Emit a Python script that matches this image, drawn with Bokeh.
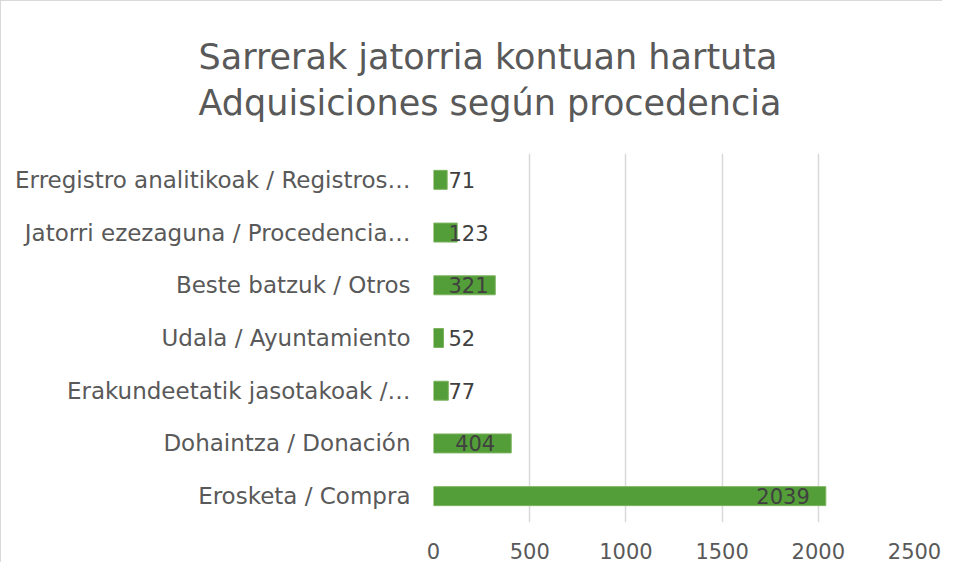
from bokeh.plotting import figure
from bokeh.models import ColumnDataSource, FactorRange, Range1d, FixedTicker, Title
from bokeh.core.properties import value
from bokeh.embed import file_html
from bokeh.resources import INLINE

# Data (bottom to top, as drawn)
categories = [
    "Erosketa / Compra",
    "Dohaintza / Donación",
    "Erakundeetatik jasotakoak /…",
    "Udala / Ayuntamiento",
    "Beste batzuk / Otros",
    "Jatorri ezezaguna / Procedencia…",
    "Erregistro analitikoak / Registros…",
]
counts = [2039, 404, 77, 52, 321, 123, 71]
x_ticks = [0, 500, 1000, 1500, 2000, 2500]
title_lines = ["Sarrerak jatorria kontuan hartuta", "Adquisiciones según procedencia"]

FONT = "DejaVu Sans"
W, H = 942, 562
LEFT, RIGHT, TOP, BOTTOM = 432, 29, 152, 41
frame_w = W - LEFT - RIGHT
frame_h = H - TOP - BOTTOM
x_max = x_ticks[-1]
ppu = frame_w / x_max  # pixels per unit

# Data label placement (Excel "inside end", falls back next to the base if it does not fit)
lab_fs = 21
pad_px, base_px = 16, 15
label_x, label_align = [], []
for v in counts:
    w_txt = len(str(v)) * 0.636 * lab_fs
    if v * ppu - pad_px - w_txt >= base_px:
        label_x.append(v - pad_px / ppu)
        label_align.append("right")
    else:
        label_x.append(base_px / ppu)
        label_align.append("left")

src = ColumnDataSource(dict(
    cat=categories, val=counts, lx=label_x, la=label_align,
    txt=[str(v) for v in counts],
))

p = figure(
    width=W, height=H,
    y_range=FactorRange(factors=categories),
    x_range=Range1d(0, x_max),
    output_backend="svg", toolbar_location=None,
    min_border_left=LEFT, min_border_right=RIGHT,
    min_border_top=TOP, min_border_bottom=BOTTOM,
)
p.outline_line_color = None
p.background_fill_color = "white"
p.border_fill_color = "white"
p.styles = {"border-left": "1px solid #d9d9d9", "border-top": "1px solid #d9d9d9"}

p.hbar(y="cat", right="val", left=0, height=0.36, source=src,
       fill_color="#549e39", line_color="#7db35f", line_width=1)

p.text(x="lx", y="cat", text="txt", text_align="la", source=src,
       text_font=value(FONT), text_font_size=f"{lab_fs}px",
       text_color="#404040", text_baseline="middle")

# axes
p.xaxis.ticker = FixedTicker(ticks=x_ticks)
p.xaxis.axis_line_color = None
p.xaxis.major_tick_line_color = None
p.xaxis.minor_tick_line_color = None
p.xaxis.major_label_text_font = FONT
p.xaxis.major_label_text_font_size = "21px"
p.xaxis.major_label_text_color = "#595959"
p.xaxis.major_label_standoff = 14

p.yaxis.axis_line_color = None
p.yaxis.major_tick_line_color = None
p.yaxis.minor_tick_line_color = None
p.yaxis.major_label_text_font = FONT
p.yaxis.major_label_text_font_size = "23px"
p.yaxis.major_label_text_color = "#595959"
p.yaxis.major_label_standoff = 17

p.xgrid.grid_line_color = "#d9d9d9"
p.xgrid.grid_line_width = 1.5
p.ygrid.grid_line_color = None

# title: two lines in one title
p.add_layout(Title(
    text="\n".join(title_lines), align="left", offset=-235, standoff=61,
    text_font=FONT, text_font_size="35px", text_color="#595959",
    text_font_style="normal", text_line_height=1.15,
), "above")

open("out.html", "w").write(file_html(p, INLINE))
